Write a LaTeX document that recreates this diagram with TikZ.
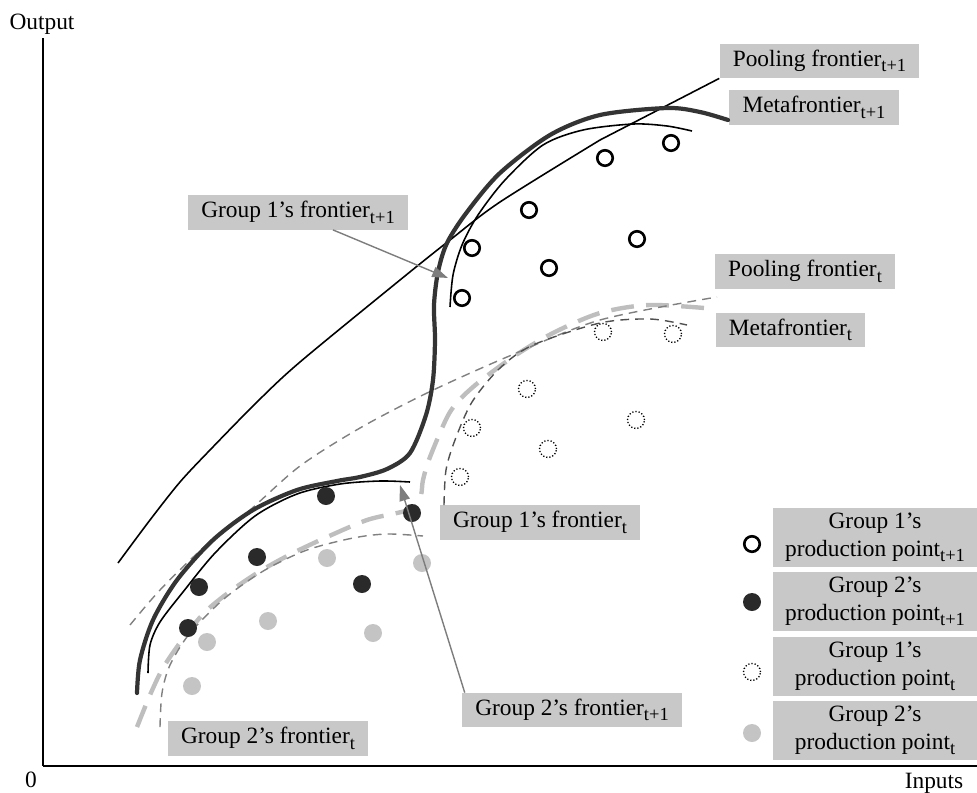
\documentclass[tikz,border=0pt]{standalone}
\usepackage{fontspec}
\setmainfont{Liberation Serif}
\usetikzlibrary{arrows.meta}

\definecolor{tagfill}{RGB}{200,200,200}
\definecolor{arrowgray}{RGB}{125,125,125}
\definecolor{metadark}{RGB}{52,52,52}
\definecolor{metalight}{RGB}{190,190,190}
\definecolor{dashgray}{RGB}{128,128,128}
\definecolor{dashdark}{RGB}{80,80,80}
\definecolor{dotdark}{RGB}{42,42,42}
\definecolor{dotlight}{RGB}{196,196,196}

\newcommand{\tsub}[1]{\raisebox{-3pt}{\fontsize{10.5}{10.5}\selectfont #1}}

\tikzset{
  labelfont/.style={font=\fontsize{13.3}{16}\selectfont},
  tag/.style={labelfont, fill=tagfill, inner xsep=7.5pt, inner ysep=3.2pt,
    text height=9.5pt, text depth=3.5pt},
  legendbox/.style={labelfont, fill=tagfill, align=center, inner sep=0pt,
    minimum width=4.08cm, minimum height=1.18cm},
  pointer/.style={draw=arrowgray, line width=0.8pt,
    -{Triangle[length=9pt,width=6pt]}},
  metanewline/.style={draw=metadark, line width=2.4pt, line cap=round},
  thinline/.style={draw=black, line width=0.9pt},
  metaoldline/.style={draw=metalight, line width=2.5pt,
    dash pattern=on 13pt off 7pt},
  poolold/.style={draw=dashgray, line width=0.8pt, dash pattern=on 5pt off 3.5pt},
  oneoldline/.style={draw=dashdark, line width=0.8pt, dash pattern=on 5pt off 3.5pt},
  opennew/.style={draw=black, line width=1.5pt, radius=0.155cm},
  darknew/.style={fill=dotdark, radius=0.18cm},
  openold/.style={draw=black, line width=0.75pt, dash pattern=on 0.7pt off 1.1pt,
    radius=0.17cm},
  lightold/.style={fill=dotlight, radius=0.18cm}
}

\begin{document}
\begin{tikzpicture}[x=0.02cm, y=-0.02cm]
    \useasboundingbox (0,0) rectangle (977,792);

    \draw [line width=1.1pt] (43,38) -- (43,766);
    \draw [line width=1.6pt] (43,766) -- (977,766);
    \node [labelfont, anchor=base, inner sep=1pt] (outputlabel) at (42,29) {Output};
    \node [labelfont, anchor=base, inner sep=1pt] (origin) at (31,787) {0};
    \node [labelfont, anchor=base, inner sep=1pt] (inputlabel) at (934,788) {Inputs};

    \node [tag] (poolnew) at (819.5,61) {Pooling frontier\tsub{t+1}};
    \node [tag] (metanew) at (814,107.5) {Metafrontier\tsub{t+1}};
    \node [tag] (onenew) at (298,212.5) {Group 1’s frontier\tsub{t+1}};
    \node [tag] (poolt) at (805,271.5) {Pooling frontier\tsub{t}};
    \node [tag] (metaold) at (790.5,330) {Metafrontier\tsub{t}};
    \node [tag] (oneold) at (540,522.5) {Group 1’s frontier\tsub{t}};
    \node [tag] (twonew) at (572,710) {Group 2’s frontier\tsub{t+1}};
    \node [tag] (twoold) at (268,738.5) {Group 2’s frontier\tsub{t}};

    \draw [metaoldline] plot [smooth] coordinates {(137,727) (150,695) (163,668)
      (182,640) (205,612) (232,590) (262,570) (293,553) (327,537) (367,520)
      (397,513) (414,508) (421,495) (423,480) (430,457) (450,412) (473,387)
      (513,357) (553,333) (600,313) (650,305) (716,309)};
    \draw [poolold] plot [smooth] coordinates {(130,625) (160,590) (203,548)
      (250,510) (300,466) (360,428) (427,393) (507,357) (600,320) (717,297)};
    \draw [poolold] plot [smooth] coordinates {(160,727) (162,693) (170,665)
      (190,633) (225,598) (265,570) (307,550) (353,538) (387,534) (423,536)};
    \draw [oneoldline] plot [smooth] coordinates {(444,505) (446,470) (455,440)
      (472,402) (500,368) (533,345) (600,323) (650,319) (687,325)};

    \draw [thinline] plot [smooth] coordinates {(118,563) (150,520) (180,482)
      (210,450) (257,402) (300,362) (400,280) (450,240) (500,202) (600,140)}
      -- (poolnew.south west);
    \draw [metanewline] plot [smooth] coordinates {(137,693) (140,660) (153,620)
      (177,580) (213,540) (253,510) (297,490) (337,481) (360,477) (387,469)
      (410,453) (426,415) (433,380) (435,340) (434,305) (438,272) (447,243)
      (467,212) (500,173) (550,135) (600,115) (667,108) (700,112) (728,120)};
    \draw [thinline] plot [smooth] coordinates {(148,673) (150,645) (160,622)
      (183,592) (215,553) (255,516) (297,494) (340,484) (380,481) (410,482)};
    \draw [thinline] plot [smooth] coordinates {(450,307) (453,275) (462,245)
      (478,215) (505,180) (543,145) (583,130) (633,124) (667,126) (692,131)};

    \foreach \x/\y in {671/143, 605/158, 529/210, 637/239, 549/268, 472/248, 462/298} {
        \draw [opennew] (\x,\y) circle;
    }
    \foreach \x/\y in {603/332, 673/334, 527/389, 636/420, 548/449, 472/428, 460/477} {
        \draw [openold] (\x,\y) circle;
    }
    \foreach \x/\y in {326/496, 412/513, 257/557, 199/587, 362/584, 188/628} {
        \fill [darknew] (\x,\y) circle;
    }
    \foreach \x/\y in {327/558, 422/563, 268/621, 207/642, 373/633, 192/686} {
        \fill [lightold] (\x,\y) circle;
    }

    \coordinate (onetip) at (448,278);
    \coordinate (twotip) at (400,485);
    \draw [pointer] ([xshift=0.7cm]onenew.south) -- (onetip);
    \draw [pointer] ([xshift=0.06cm]twonew.north west) -- (twotip);

    \node [legendbox] (legone) at (875,537) {Group 1’s\\production point\tsub{t+1}};
    \node [legendbox] (legtwo) at (875,601.5) {Group 2’s\\production point\tsub{t+1}};
    \node [legendbox] (legthree) at (875,666) {Group 1’s\\production point\tsub{t}};
    \node [legendbox] (legfour) at (875,730) {Group 2’s\\production point\tsub{t}};
    \draw [opennew] (752,544) circle;
    \fill [darknew] (752,602) circle;
    \draw [openold] (752,672) circle;
    \fill [lightold] (752,733) circle;
\end{tikzpicture}
\end{document}
